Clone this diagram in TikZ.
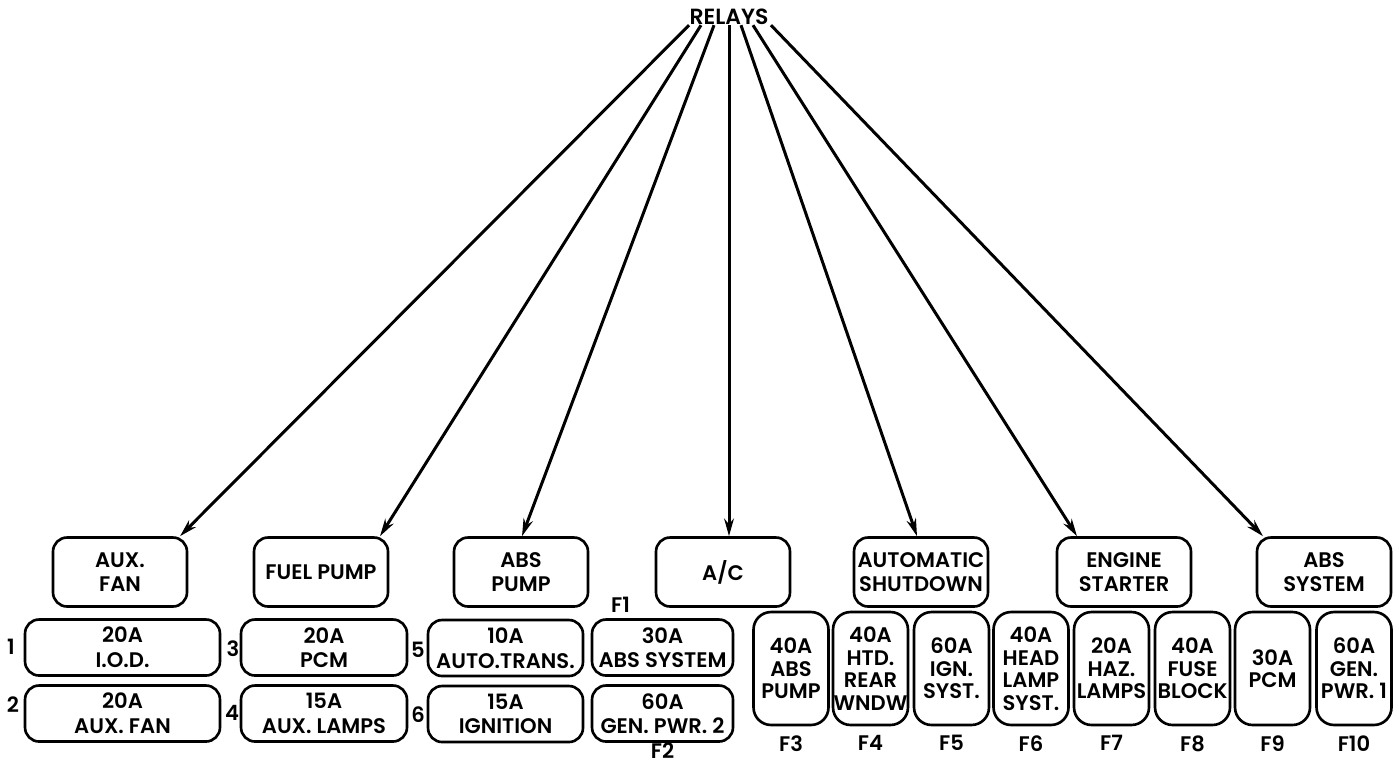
\documentclass[tikz,border=0pt]{standalone}
\usepackage{fontspec}
\setmainfont{Poppins}[UprightFont={* SemiBold}]
\usetikzlibrary{arrows.meta,positioning}
\tikzset{
	relay/.style={draw,line width=1.5pt,rounded corners=8pt,align=center,minimum width=2.68cm,minimum height=1.38cm,inner sep=0pt,font=\fontsize{12}{14}\selectfont},
	fuse/.style={draw,line width=1.5pt,rounded corners=8pt,align=center,minimum height=1.12cm,inner sep=0pt,font=\fontsize{12}{14}\selectfont},
	tallfuse/.style={draw,line width=1.5pt,rounded corners=10pt,align=center,minimum width=1.5cm,minimum height=2.26cm,inner sep=0pt,font=\fontsize{12}{12.8}\selectfont},
	tag/.style={inner sep=0pt,font=\fontsize{12}{14}\selectfont},
	feed/.style={-{Stealth[length=10pt,width=5.5pt]},line width=1.7pt},
}
\begin{document}
\begin{tikzpicture}[x=0.02cm,y=-0.02cm]
	\useasboundingbox (0,0) rectangle (1399,765);
	\node[tag,font=\fontsize{12.5}{14}\selectfont] (relays) at (729,17) {RELAYS};
	% relay boxes
	\foreach \n/\x/\txt in {aux/120/{AUX.\\FAN},fuel/321/{FUEL PUMP},abp/521/{ABS\\PUMP},ac/723/{A/C},asd/921/{AUTOMATIC\\SHUTDOWN},eng/1124/{ENGINE\\STARTER},abs/1324/{ABS\\SYSTEM}}
	\node[relay] (\n) at (\x,572) {\txt};
	\foreach \n/\s/\e in {aux/-40/60,fuel/-28/59,abp/-15/1,ac/0/6,asd/12/-4,eng/24/-47,abs/42/-61}
	\draw[feed] ([xshift=\s*0.02cm]relays.south) -- ([xshift=\e*0.02cm]\n.north);
	% fuses, left block
	\foreach \n/\x/\y/\w/\txt in {1/122.5/647.5/3.9/{20A\\I.O.D.},2/122.5/713.5/3.9/{20A\\AUX. FAN},3/324/647.5/3.32/{20A\\PCM},4/324/713.5/3.32/{15A\\AUX. LAMPS},5/505.5/648/3.1/{10A\\AUTO.TRANS.},6/505.5/714/3.1/{15A\\IGNITION},F1/662.5/647.5/2.82/{30A\\ABS SYSTEM},F2/662.5/713.5/2.82/{60A\\GEN. PWR. 2}}
	\node[fuse,minimum width=\w cm] (f\n) at (\x,\y) {\txt};
	\foreach \n/\x/\y in {1/11/647,2/13/705,3/233/649,4/232/713,5/418/650,6/418/715}
	\node[tag] (n\n) at (\x,\y) {\n};
	\node[tag,above=3pt] (lF1) at ([xshift=-42*0.02cm]fF1.north) {F1};
	\node[tag,below=0pt] (lF2) at (fF2.south) {F2};
	% fuses, right block
	\foreach \n/\x/\txt in {3/791/{40A\\ABS\\PUMP},4/870.5/{40A\\HTD.\\REAR\\WNDW},5/951.5/{60A\\IGN.\\SYST.},6/1031/{40A\\HEAD\\LAMP\\SYST.},7/1111.5/{20A\\HAZ.\\LAMPS},8/1192.5/{40A\\FUSE\\BLOCK},9/1272.5/{30A\\PCM},10/1354/{60A\\GEN.\\PWR. 1}}{
		\node[tallfuse] (fF\n) at (\x,668.5) {\txt};
		\node[tag,below=5pt] (lF\n) at (fF\n.south) {F\n};
	}
\end{tikzpicture}
\end{document}
